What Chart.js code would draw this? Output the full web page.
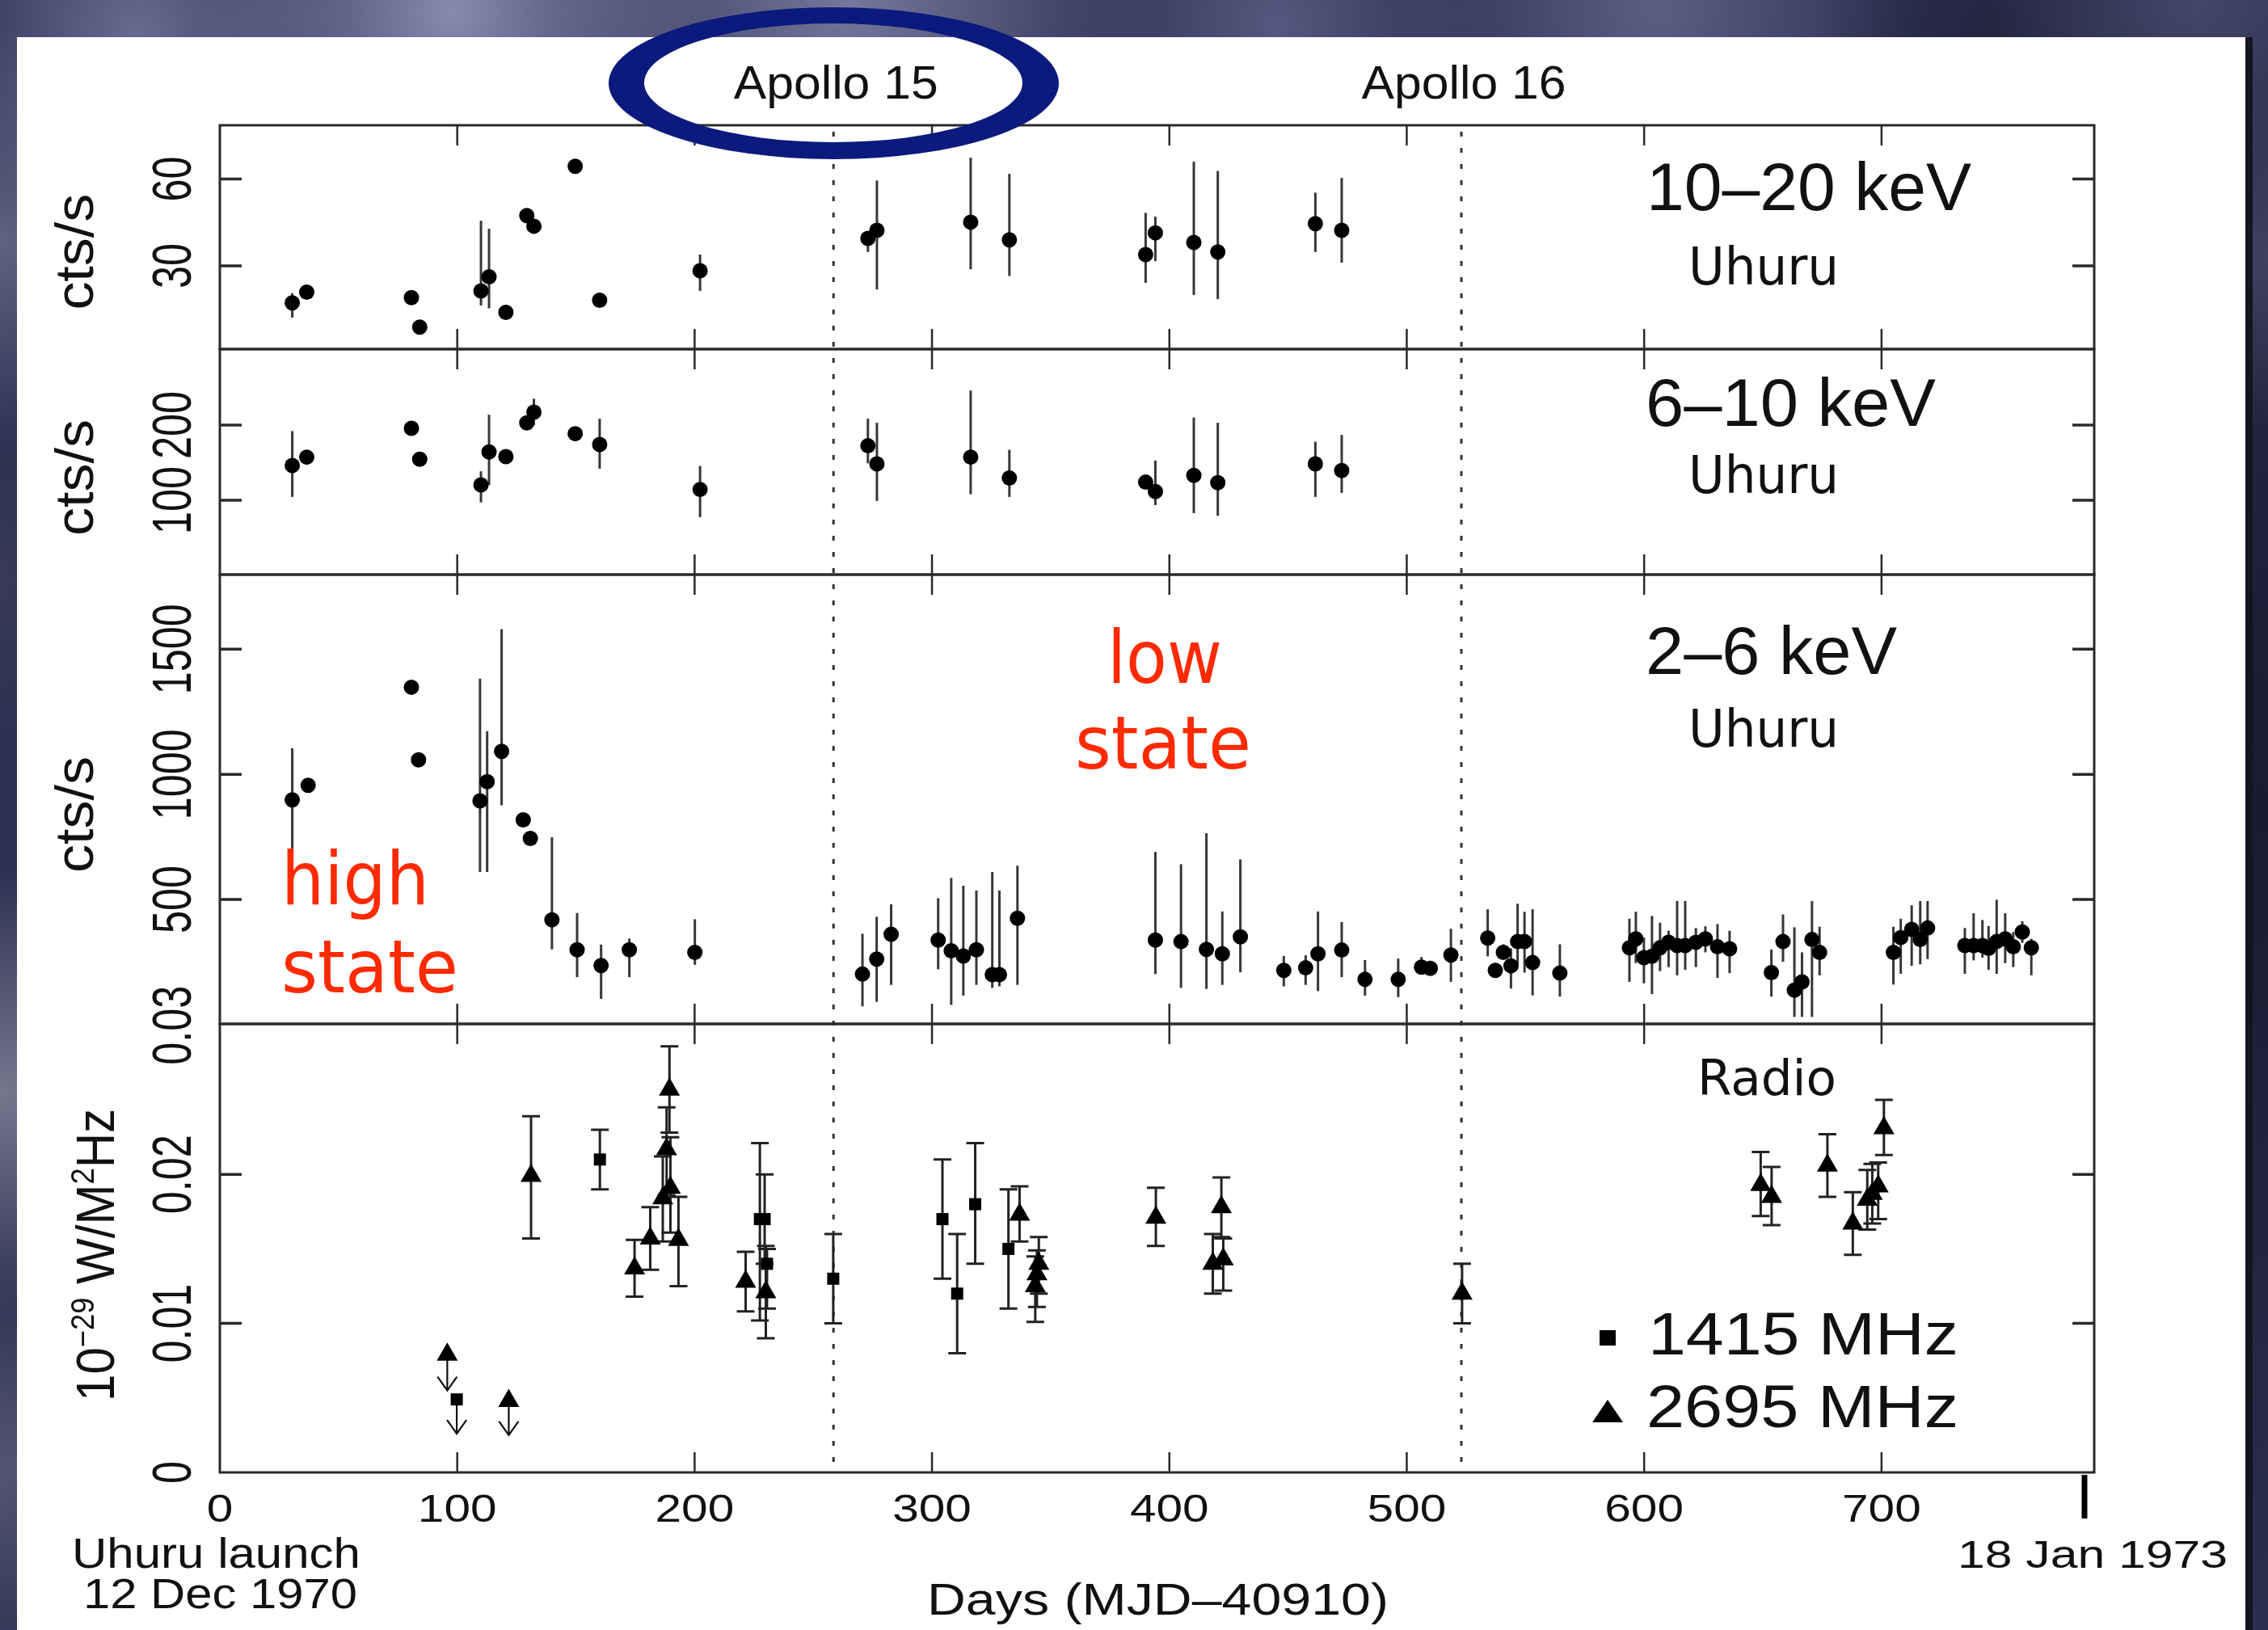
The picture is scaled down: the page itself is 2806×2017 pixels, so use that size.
<!DOCTYPE html>
<html>
<head>
<meta charset="utf-8">
<title>Uhuru and radio light curves</title>
<script src="https://cdn.jsdelivr.net/npm/chart.js@4.4.1/dist/chart.umd.min.js"></script>
<style>
  html, body { margin: 0; padding: 0; background: #2d3052; }
  canvas { display: block; }
</style>
</head>
<body>
<canvas id="lightCurves" width="2806" height="2017"></canvas>
<script>
// days are MJD - 40910
var xrayDays = [30.5, 36.6, 80.7, 84.2, 110.0, 113.4, 120.5, 129.3, 132.3, 149.7, 160.0,
                202.3, 273.0, 276.8, 316.3, 332.6, 390.0, 394.1, 410.3, 420.4, 461.5, 472.6];

// 10-20 keV
var hardRate = [17.2, 20.9, 19.0, 8.8, 21.3, 26.2, 13.9, 47.4, 43.7, 64.4, 18.1,
                28.3, 39.5, 42.3, 45.1, 39.0, 33.9, 41.4, 38.1, 34.8, 44.6, 42.3];
var hardLo = [12.1, null, null, null, 16.3, 15.3, null, null, null, null, null,
              21.3, 34.8, 21.8, 28.8, 26.5, 24.1, 31.6, 19.9, 18.5, 34.8, 31.1];
var hardHi = [20.5, null, null, null, 45.6, 42.8, null, null, null, null, null,
              33.9, 41.8, 59.5, 67.4, 61.8, 48.3, 47.0, 66.0, 62.8, 55.3, 60.4];

// 6-10 keV
var midRate = [146.2, 157.3, 195.7, 154.5, 120.4, 164.2, 158.0, 202.9, 217.2, 188.5, 174.2,
               114.3, 172.4, 148.4, 157.3, 129.4, 124.0, 111.5, 133.0, 123.3, 148.4, 139.4];
var midLo = [104.3, null, null, null, 97.1, 120.0, null, null, 200.0, null, 141.9,
             77.4, 149.0, 98.9, 107.9, 104.3, null, 93.5, 82.8, 79.2, 104.3, 109.7];
var midHi = [192.0, null, null, null, 138.4, 213.7, null, null, 235.0, null, 208.3,
             145.5, 208.3, 202.9, 245.9, 167.0, null, 152.7, 210.0, 203.0, 177.7, 186.8];

// 2-6 keV
var softDays = [30.5, 37.2, 80.7, 83.7, 109.6, 112.6, 118.7, 127.8, 130.8, 139.9, 150.5, 160.6, 172.5, 200.1,
                270.7, 276.7, 282.8, 302.6, 308.1, 313.2, 318.7, 325.4, 328.4, 336.0,
                394.1, 404.9, 415.6, 422.3, 429.9, 448.2, 457.4, 462.6, 472.6, 482.4, 496.4, 506.2, 509.9, 518.6,
                534.1, 537.3, 540.7, 543.9, 546.7, 549.6, 553.0, 564.5,
                593.8, 596.5, 599.9, 603.3, 606.7, 610.3, 613.9, 617.3, 621.8, 625.8, 630.9, 636.0,
                653.6, 658.5, 663.3, 666.5, 670.7, 673.9,
                705.0, 708.1, 712.7, 716.3, 719.4,
                735.1, 738.8, 742.5, 745.1, 748.5, 752.1, 755.5, 759.3, 763.1];
var softRate = [898, 956, 1348, 1058, 894, 971, 1092, 818, 744, 419, 299, 236, 299, 289,
                202, 262, 361, 338, 295, 274, 299, 200, 200, 425,
                338, 332, 301, 283, 351, 217, 227, 283, 298, 181, 181, 230, 225, 278,
                346, 217, 289, 235, 332, 332, 248, 206,
                307, 343, 268, 273, 307, 329, 316, 316, 329, 343, 311, 303,
                208, 332, 138, 171, 340, 289,
                289, 348, 381, 340, 386,
                316, 316, 316, 305, 332, 343, 311, 370, 307];
var softLo = [703, null, null, null, 610, 610, 876, null, null, 301, 190, 103, 190, 239,
              73, 91, 159, 221, 79, 116, 159, 147, 153, 159,
              202, 147, 143, 159, 209, 153, 159, 134, 190, 116, 110, 202, 200, 171,
              273, 200, 262, 144, 241, 208, 117, 112,
              171, 246, 165, 122, 214, 230, 197, 219, 230, 289, 187, 206,
              112, 251, 31, 31, 31, 197,
              160, 203, 235, 241, 262,
              203, 257, 268, 219, 203, 246, 230, 327, 197];
var softHi = [1104, null, null, null, 1382, 1172, 1580, null, null, 749, 446, 320, 344, 421,
              363, 431, 481, 505, 586, 555, 536, 610, 536, 635,
              690, 641, 765, 452, 660, 274, 277, 452, 410, 258, 264, 270, 255, 383,
              461, 235, 321, 305, 483, 451, 461, 321,
              423, 451, 348, 434, 407, 375, 494, 494, 386, 393, 402, 375,
              300, 440, 389, 289, 494, 391,
              391, 423, 477, 494, 494,
              386, 445, 418, 394, 499, 445, 370, 413, 343];

// radio flux, 1e-29 W/m^2/Hz
var radio1415Days = [160.1, 227.5, 229.5, 230.5, 258.4, 304.4, 310.6, 318.2, 332.2];
var radio1415Flux = [0.0210, 0.0170, 0.0170, 0.0140, 0.0130, 0.0170, 0.0120, 0.0180, 0.0150];
var radio1415Lo = [0.0190, 0.0102, 0.0140, 0.0110, 0.0100, 0.0130, 0.0080, 0.0140, 0.0110];
var radio1415Hi = [0.0230, 0.0221, 0.0200, 0.0150, 0.0160, 0.0210, 0.0160, 0.0221, 0.0190];

var radio2695Days = [131.1, 174.7, 181.3, 186.6, 188.2, 189.4, 189.8, 193.2, 221.5, 230.0,
                     336.9, 343.5, 344.2, 345.0, 394.3, 418.3, 421.9, 422.7, 523.3,
                     649.1, 653.7, 677.2, 687.9, 694.0, 696.1, 698.6, 701.0];
var radio2695Flux = [0.0199, 0.0137, 0.0157, 0.0184, 0.0217, 0.0257, 0.0191, 0.0156, 0.0128, 0.0121,
                     0.0173, 0.0125, 0.0133, 0.0140, 0.0171, 0.0140, 0.0178, 0.0143, 0.0120,
                     0.0193, 0.0185, 0.0206, 0.0167, 0.0183, 0.0187, 0.0192, 0.0231];
var radio2695Lo = [0.0157, 0.0118, 0.0136, 0.0155, 0.0186, 0.0228, 0.0161, 0.0125, 0.0108, 0.0090,
                   0.0155, 0.0101, 0.0111, 0.0120, 0.0152, 0.0120, 0.0158, 0.0122, 0.0100,
                   0.0172, 0.0166, 0.0185, 0.0146, 0.0163, 0.0167, 0.0170, 0.0213];
var radio2695Hi = [0.0239, 0.0156, 0.0178, 0.0212, 0.0245, 0.0286, 0.0225, 0.0185, 0.0148, 0.0152,
                   0.0192, 0.0145, 0.0149, 0.0158, 0.0191, 0.0160, 0.0198, 0.0157, 0.0140,
                   0.0215, 0.0205, 0.0227, 0.0188, 0.0203, 0.0207, 0.0208, 0.0250];

// upper limits (marker value, arrow tip)
var limit2695Days = [95.8, 121.7];
var limit2695Flux = [0.0079, 0.0048];
var limit2695To = [0.0055, 0.0025];
var limit1415Days = [99.8];
var limit1415Flux = [0.0049];
var limit1415To = [0.0026];

var apolloDays = [258.5, 523.0];
var apolloNames = ['Apollo 15', 'Apollo 16'];
var endDay = 785.5;

var dayTicks = [0, 100, 200, 300, 400, 500, 600, 700];
var hardTicks = [30, 60];
var midTicks = [100, 200];
var softTicks = [500, 1000, 1500];
var radioTicks = [0, 0.01, 0.02, 0.03];
var radioTickLabels = ['0', '0.01', '0.02', '0.03'];

var SANS = '"Liberation Sans", Arial, sans-serif';
var VERA = '"DejaVu Sans", Verdana, sans-serif';
var RED = '#ff2a00';

function points(xs, ys) {
  return xs.map(function (x, i) { return { x: x, y: ys[i] }; });
}

function hiddenAxis(extra) {
  return Object.assign({
    type: 'linear',
    display: true,
    ticks: { display: false },
    grid: { display: false, drawTicks: false },
    border: { display: false }
  }, extra);
}

// horizontal text squeezed or stretched to a given width
function fitText(ctx, str, x, y, font, width, align, color) {
  ctx.save();
  ctx.font = font;
  var w = ctx.measureText(str).width;
  ctx.translate(x, y);
  ctx.scale(width / w, 1);
  ctx.textAlign = align || 'left';
  ctx.textBaseline = 'alphabetic';
  ctx.fillStyle = color || '#111';
  ctx.fillText(str, 0, 0);
  ctx.restore();
}

// text reading bottom to top; x is the baseline, y the centre
function upText(ctx, str, x, y, font, squeeze) {
  ctx.save();
  ctx.font = font;
  ctx.translate(x, y);
  ctx.rotate(-Math.PI / 2);
  ctx.scale(squeeze, 1);
  ctx.textAlign = 'center';
  ctx.textBaseline = 'alphabetic';
  ctx.fillStyle = '#111';
  ctx.fillText(str, 0, 0);
  ctx.restore();
}

var errorSets = [
  { axis: 'yHard', days: xrayDays, lo: hardLo, hi: hardHi, cap: 0 },
  { axis: 'yMid', days: xrayDays, lo: midLo, hi: midHi, cap: 0 },
  { axis: 'ySoft', days: softDays, lo: softLo, hi: softHi, cap: 0 },
  { axis: 'yRadio', days: radio1415Days, lo: radio1415Lo, hi: radio1415Hi, cap: 11 },
  { axis: 'yRadio', days: radio2695Days, lo: radio2695Lo, hi: radio2695Hi, cap: 11 }
];

var limitSets = [
  { days: limit2695Days, from: limit2695Flux, to: limit2695To },
  { days: limit1415Days, from: limit1415Flux, to: limit1415To }
];

var backdrop = {
  id: 'backdrop',
  beforeDraw: function (chart) {
    var ctx = chart.ctx, W = chart.width, H = chart.height;
    ctx.save();
    ctx.fillStyle = '#2c2f52';
    ctx.fillRect(0, 0, W, H);
    var clouds = [
      [170, 40, 260, [118, 122, 160], 0.8],
      [560, 15, 320, [150, 154, 190], 0.85],
      [1050, 5, 380, [140, 144, 180], 0.75],
      [1580, 30, 260, [112, 116, 156], 0.6],
      [2050, 10, 330, [122, 126, 164], 0.6],
      [2470, 30, 220, [34, 36, 62], 0.8],
      [2720, 10, 260, [96, 100, 136], 0.5],
      [0, 300, 260, [118, 120, 150], 0.7],
      [0, 720, 220, [58, 60, 88], 0.8],
      [0, 1350, 280, [150, 150, 166], 0.7],
      [0, 1820, 260, [108, 110, 134], 0.6],
      [2806, 1000, 1100, [20, 20, 34], 0.75],
      [2806, 320, 220, [88, 90, 122], 0.5]
    ];
    clouds.forEach(function (c) {
      var g = ctx.createRadialGradient(c[0], c[1], 0, c[0], c[1], c[2]);
      var rgb = c[3].join(',');
      g.addColorStop(0, 'rgba(' + rgb + ',' + c[4] + ')');
      g.addColorStop(1, 'rgba(' + rgb + ',0)');
      ctx.fillStyle = g;
      ctx.fillRect(c[0] - c[2], c[1] - c[2], c[2] * 2, c[2] * 2);
    });
    // white sheet
    ctx.fillStyle = '#15151f';
    ctx.fillRect(2778, 46, 9, H - 46);
    ctx.fillStyle = '#ffffff';
    ctx.fillRect(21, 46, 2757, H - 46);
    ctx.restore();
  }
};

var errorBars = {
  id: 'errorBars',
  beforeDatasetsDraw: function (chart) {
    var ctx = chart.ctx, x = chart.scales.x;
    var top = chart.scales.yHard.top, bottom = chart.scales.yRadio.bottom;
    ctx.save();

    // Apollo missions
    ctx.strokeStyle = '#333';
    ctx.lineWidth = 3;
    ctx.setLineDash([6, 14]);
    apolloDays.forEach(function (d) {
      var px = x.getPixelForValue(d);
      ctx.beginPath();
      ctx.moveTo(px, top + 8);
      ctx.lineTo(px, bottom);
      ctx.stroke();
    });
    ctx.setLineDash([]);

    errorSets.forEach(function (set) {
      var y = chart.scales[set.axis];
      ctx.strokeStyle = set.cap ? '#222' : 'rgba(20,20,20,0.85)';
      ctx.lineWidth = 3;
      set.days.forEach(function (d, i) {
        if (set.lo[i] === null) return;
        var px = x.getPixelForValue(d);
        var y1 = y.getPixelForValue(set.lo[i]);
        var y2 = y.getPixelForValue(set.hi[i]);
        ctx.beginPath();
        ctx.moveTo(px, y1);
        ctx.lineTo(px, y2);
        if (set.cap) {
          ctx.moveTo(px - set.cap, y1);
          ctx.lineTo(px + set.cap, y1);
          ctx.moveTo(px - set.cap, y2);
          ctx.lineTo(px + set.cap, y2);
        }
        ctx.stroke();
      });
    });

    // upper limit arrows
    var yr = chart.scales.yRadio;
    ctx.strokeStyle = '#111';
    ctx.lineWidth = 2.2;
    limitSets.forEach(function (set) {
      set.days.forEach(function (d, i) {
        var px = x.getPixelForValue(d);
        var y1 = yr.getPixelForValue(set.from[i]);
        var y2 = yr.getPixelForValue(set.to[i]);
        ctx.beginPath();
        ctx.moveTo(px, y1);
        ctx.lineTo(px, y2);
        ctx.moveTo(px - 12, y2 - 17);
        ctx.lineTo(px, y2);
        ctx.lineTo(px + 12, y2 - 17);
        ctx.stroke();
      });
    });
    ctx.restore();
  }
};

var frame = {
  id: 'frame',
  afterDraw: function (chart) {
    var ctx = chart.ctx, x = chart.scales.x;
    var left = x.left, right = x.right;
    var panels = [
      { axis: 'yHard', ticks: hardTicks, labels: hardTicks.map(String), title: 311.7 },
      { axis: 'yMid', ticks: midTicks, labels: midTicks.map(String), title: 591 },
      { axis: 'ySoft', ticks: softTicks, labels: softTicks.map(String), title: 1008 },
      { axis: 'yRadio', ticks: radioTicks, labels: radioTickLabels, title: null }
    ];
    ctx.save();
    ctx.strokeStyle = '#2a2a2a';
    panels.forEach(function (p) {
      var y = chart.scales[p.axis];
      ctx.lineWidth = 3;
      ctx.strokeRect(left, y.top, right - left, y.bottom - y.top);

      ctx.lineWidth = 2.5;
      ctx.beginPath();
      dayTicks.forEach(function (d) {
        if (d === 0) return;
        var px = x.getPixelForValue(d);
        ctx.moveTo(px, y.top);
        ctx.lineTo(px, y.top + 25);
        ctx.moveTo(px, y.bottom - 25);
        ctx.lineTo(px, y.bottom);
      });
      ctx.stroke();

      ctx.lineWidth = 3.5;
      ctx.beginPath();
      p.ticks.forEach(function (v) {
        var py = y.getPixelForValue(v);
        if (py <= y.top + 2 || py >= y.bottom - 2) return;
        ctx.moveTo(left, py);
        ctx.lineTo(left + 27, py);
        ctx.moveTo(right - 27, py);
        ctx.lineTo(right, py);
      });
      ctx.stroke();

      p.ticks.forEach(function (v, i) {
        upText(ctx, p.labels[i], 236, y.getPixelForValue(v), '68px ' + SANS, 0.74);
      });
      if (p.title) upText(ctx, 'cts/s', 115, p.title, '66px ' + SANS, 1.06);
    });

    // radio axis title with superscripts
    var parts = [['10', 66, 0], ['\u221229', 40, 25], [' W/M', 66, 0], ['2', 40, 25], ['Hz', 66, 0]];
    ctx.save();
    ctx.translate(141, 1553);
    ctx.rotate(-Math.PI / 2);
    var total = 0;
    parts.forEach(function (p) { ctx.font = p[1] + 'px ' + SANS; total += ctx.measureText(p[0]).width; });
    ctx.scale(362 / total, 1);
    ctx.fillStyle = '#111';
    ctx.textAlign = 'left';
    var cx = -total / 2;
    parts.forEach(function (p) {
      ctx.font = p[1] + 'px ' + SANS;
      ctx.fillText(p[0], cx, -p[2]);
      cx += ctx.measureText(p[0]).width;
    });
    ctx.restore();

    // day axis labels
    dayTicks.forEach(function (d) {
      var s = String(d);
      ctx.font = '48px ' + SANS;
      fitText(ctx, s, x.getPixelForValue(d), 1883, '48px ' + SANS, ctx.measureText(s).width * 1.22, 'center');
    });

    // end of the monitoring span
    var ex = x.getPixelForValue(endDay);
    ctx.fillStyle = '#000';
    ctx.fillRect(ex - 3.5, 1825, 7, 54);

    apolloDays.forEach(function (d, i) {
      fitText(ctx, apolloNames[i], x.getPixelForValue(d) + 3, 122, '58px ' + SANS, 253, 'center');
    });

    var notes = [
      ['10\u201320 keV', 2037, 260, '84px ' + SANS, 402, '#111'],
      ['Uhuru', 2089, 352, '64px ' + VERA, 186, '#111'],
      ['6\u201310 keV', 2036, 527, '84px ' + SANS, 359, '#111'],
      ['Uhuru', 2089, 610, '64px ' + VERA, 186, '#111'],
      ['2\u20136 keV', 2036, 834, '84px ' + SANS, 311, '#111'],
      ['Uhuru', 2089, 924, '64px ' + VERA, 186, '#111'],
      ['Radio', 2100, 1355, '60px ' + VERA, 172, '#111'],
      ['low', 1370, 845, '90px ' + VERA, 142, RED],
      ['state', 1330, 951, '90px ' + VERA, 218, RED],
      ['high', 348, 1119, '90px ' + VERA, 183, RED],
      ['state', 348, 1228, '90px ' + VERA, 219, RED],
      ['1415 MHz', 2039, 1676, '75px ' + SANS, 384, '#111'],
      ['2695 MHz', 2037, 1766, '75px ' + SANS, 386, '#111'],
      ['Uhuru launch', 89, 1940, '51px ' + SANS, 357, '#111'],
      ['12 Dec 1970', 103, 1990, '51px ' + SANS, 339, '#111'],
      ['Days (MJD\u201340910)', 1147, 1998, '55px ' + SANS, 571, '#111'],
      ['18 Jan 1973', 2422, 1940, '49px ' + SANS, 334, '#111']
    ];
    notes.forEach(function (n) { fitText(ctx, n[0], n[1], n[2], n[3], n[4], 'left', n[5]); });

    // legend markers
    ctx.fillStyle = '#000';
    ctx.fillRect(1979, 1646, 20, 19);
    ctx.beginPath();
    ctx.moveTo(1989, 1732);
    ctx.lineTo(2008, 1760);
    ctx.lineTo(1970, 1760);
    ctx.closePath();
    ctx.fill();

    // ring around Apollo 15
    ctx.fillStyle = '#0b1a7c';
    ctx.beginPath();
    ctx.ellipse(1031.5, 103, 278.5, 94, 0, 0, Math.PI * 2);
    ctx.ellipse(1031, 102.5, 234, 73.5, 0, 0, Math.PI * 2);
    ctx.fill('evenodd');
    ctx.restore();
  }
};

var dot = { pointStyle: 'circle', pointRadius: 9.5, backgroundColor: '#000', borderWidth: 0 };
var square = { pointStyle: 'rect', pointRadius: 10.6, backgroundColor: '#000', borderWidth: 0 };
var triangle = { pointStyle: 'triangle', pointRadius: 15, backgroundColor: '#000', borderWidth: 0 };

var chart = new Chart(document.getElementById('lightCurves'), {
  type: 'scatter',
  data: {
    datasets: [
      Object.assign({ label: '10\u201320 keV', data: points(xrayDays, hardRate), yAxisID: 'yHard' }, dot),
      Object.assign({ label: '6\u201310 keV', data: points(xrayDays, midRate), yAxisID: 'yMid' }, dot),
      Object.assign({ label: '2\u20136 keV', data: points(softDays, softRate), yAxisID: 'ySoft' }, dot),
      Object.assign({ label: '1415 MHz', data: points(radio1415Days, radio1415Flux), yAxisID: 'yRadio' }, square),
      Object.assign({ label: '2695 MHz', data: points(radio2695Days, radio2695Flux), yAxisID: 'yRadio' }, triangle),
      Object.assign({ label: '1415 MHz limit', data: points(limit1415Days, limit1415Flux), yAxisID: 'yRadio' }, square),
      Object.assign({ label: '2695 MHz limit', data: points(limit2695Days, limit2695Flux), yAxisID: 'yRadio' }, triangle)
    ]
  },
  options: {
    responsive: false,
    animation: false,
    events: [],
    layout: { padding: { left: 272, top: 155, right: 215, bottom: 195 } },
    plugins: { legend: { display: false }, tooltip: { enabled: false } },
    scales: {
      x: hiddenAxis({ position: 'bottom', min: 0, max: 789.6 }),
      yRadio: hiddenAxis({ position: 'left', stack: 'panels', stackWeight: 555, min: 0, max: 0.0301 }),
      ySoft: hiddenAxis({ position: 'left', stack: 'panels', stackWeight: 556, min: 3, max: 1798 }),
      yMid: hiddenAxis({ position: 'left', stack: 'panels', stackWeight: 279, min: 1, max: 301 }),
      yHard: hiddenAxis({ position: 'left', stack: 'panels', stackWeight: 277, min: 1.2, max: 78.6 })
    }
  },
  plugins: [backdrop, errorBars, frame]
});
</script>
</body>
</html>
